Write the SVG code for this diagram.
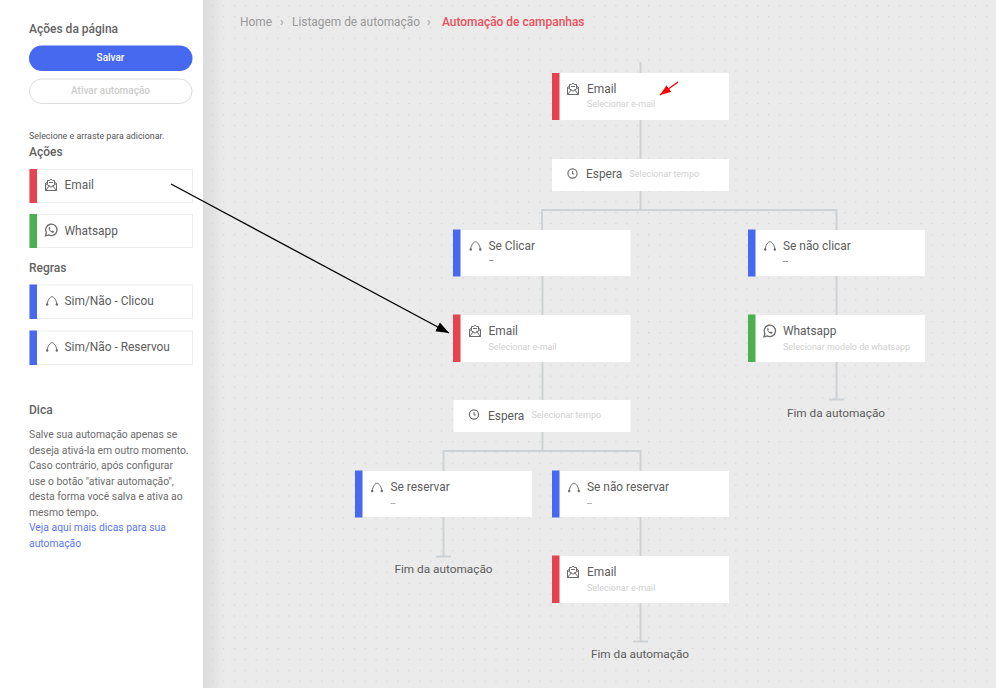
<svg xmlns="http://www.w3.org/2000/svg" width="996" height="688" viewBox="0 0 996 688">
<style>
text{font-family:Roboto,"Liberation Sans",sans-serif;fill:#5c5c5c}
.h{font-size:12px;font-weight:500;fill:#636363}
.t{font-size:11.9px;fill:#5c5c5c}
.s{font-size:8.950px;fill:#d0d0d0}
.d{font-size:10.350px;fill:#6c6c6c}
.l{font-size:10.350px;fill:#5b78f0}
.c{fill:#fff}
.p{fill:#fff;stroke:#eee;stroke-width:1}
.w{fill:none;stroke:#cdd2d6;stroke-width:2}
.i{fill:none;stroke:#6a6a6a;stroke-width:1}
.red{fill:#e4434f}.grn{fill:#4caf50}.blu{fill:#4669f0}
.e{font-size:11.800px;fill:#5c5c5c;text-anchor:middle}
</style>
<defs>
<pattern id="dots" width="10.9" height="10.9" patternUnits="userSpaceOnUse"><rect x="5" y="5" width="1.200" height="1.200" fill="#d2d2d2"/></pattern>
<linearGradient id="sh" x1="0" x2="1" y1="0" y2="0"><stop offset="0" stop-color="#dcdcdc"/><stop offset="1" stop-color="#ebebeb"/></linearGradient>
<g id="mail" class="i"><path d="M-5.500-1.500V5.500H5.500V-1.500L3.500-3V-4.500H1.500L0-5.800L-1.500-4.500H-3.500V-3Z"/><path d="M-5.500-1.500L0 2.200L5.500-1.500M-5.500 5.500L-1.500 .5M5.500 5.500L1.500 .5M-3.500-3V-.5M3.500-3V-.5M-2-2.500H2"/></g>
<g id="wa" class="i"><path d="M-5.500 5.800L-4.600 2.700A5.700 5.700 0 1 1-2.300 4.900Z" stroke-width="1.300"/><path d="M-2.300-2.500C-2.500 1 .5 3 2.600 2.700L3 1.200L1.300 .4L.5 1.200C-.4.800-1 .1-1.300-.8L-.6-1.500L-1.300-3Z" fill="#6a6a6a" stroke="none"/></g>
<g id="rule"><path class="i" d="M-4.800 3.800C-4.500 0-2-3.800 0-3.800S4.500 0 4.800 3.800" stroke-width="1.200"/><circle cx="-4.800" cy="4" r="1.200" fill="#6a6a6a"/><circle cx="4.800" cy="4" r="1.200" fill="#6a6a6a"/></g>
<g id="clock" class="i"><circle r="4.600" stroke-width="1.100"/><path d="M0-2.500V.5H1.800"/></g>
<marker id="ab" markerUnits="userSpaceOnUse" markerWidth="14" markerHeight="12" refX="13" refY="5" orient="auto"><path d="M0 0L13 5L0 10Z" fill="#000"/></marker>
<marker id="ar" markerUnits="userSpaceOnUse" markerWidth="12" markerHeight="10" refX="11" refY="4" orient="auto"><path d="M0 0L11 4L0 8Z" fill="#f00"/></marker>
</defs>

<rect width="996" height="688" fill="#ebebeb"/>
<rect x="203" width="22" height="688" fill="url(#sh)"/>
<rect x="203" width="793" height="688" fill="url(#dots)"/>
<rect width="203" height="688" fill="#fff"/>

<g id="breadcrumb">
<text x="240" y="26" font-size="11.9" style="fill:#999">Home</text>
<text x="280" y="26" font-size="12" style="fill:#999">›</text>
<text x="292" y="26" font-size="11.9" style="fill:#999">Listagem de automação</text>
<text x="427" y="26" font-size="12" style="fill:#999">›</text>
<text x="442" y="26" font-size="11.950" font-weight="500" style="fill:#e8505b">Automação de campanhas</text>
</g>

<g id="connectors">
<path class="w" d="M640.500 62V210M542 240V210H836.500V240M542.500 270V450M443.500 480V451H640.500V480M836.500 270V399M640.500 510V641M443.500 510V556"/>
<path class="w" d="M829 399.500H844M436 556.500H451M633 641.500H648" stroke-width="1"/>
</g>

<g id="sidebar-head">
<text class="h" x="29" y="33">Ações da página</text>
<rect x="29" y="45.500" width="163.500" height="25.500" rx="12.700" fill="#4669f0"/>
<text x="110.500" y="61" font-size="10" font-weight="500" text-anchor="middle" style="fill:#fff">Salvar</text>
<rect x="29.500" y="79" width="162.500" height="24.500" rx="12.200" fill="#fff" stroke="#ddd"/>
<text x="110.500" y="93.500" font-size="10" font-weight="500" text-anchor="middle" style="fill:#ccc">Ativar automação</text>
<text x="29" y="139" font-size="8.900" style="fill:#555">Selecione e arraste para adicionar.</text>
<text class="h" x="29" y="155.500">Ações</text>
<text class="h" x="29" y="272">Regras</text>
</g>

<g id="pal-email"><rect class="p" x="29.500" y="169.500" width="163" height="33"/><rect class="red" x="29.500" y="169" width="7.500" height="34"/><use href="#mail" x="51" y="185"/><text class="t" x="64.500" y="189">Email</text></g>
<g id="pal-whatsapp"><rect class="p" x="29.500" y="214.500" width="163" height="33"/><rect class="grn" x="29.500" y="214" width="7.500" height="34"/><use href="#wa" x="51" y="230"/><text class="t" x="64.500" y="234.500">Whatsapp</text></g>
<g id="pal-clicou"><rect class="p" x="29.500" y="285" width="163" height="33.500"/><rect class="blu" x="29.500" y="284.500" width="7.500" height="34.500"/><use href="#rule" x="52" y="300.500"/><text class="t" x="64.500" y="305">Sim/Não - Clicou</text></g>
<g id="pal-reservou"><rect class="p" x="29.500" y="331" width="163" height="33.500"/><rect class="blu" x="29.500" y="330.500" width="7.500" height="34.500"/><use href="#rule" x="52" y="346.500"/><text class="t" x="64.500" y="351">Sim/Não - Reservou</text></g>

<g id="tip">
<text class="h" x="29" y="414">Dica</text>
<text class="d" x="29" y="438">Salve sua automação apenas se</text>
<text class="d" x="29" y="453.500">deseja ativá-la em outro momento.</text>
<text class="d" x="29" y="469">Caso contrário, após configurar</text>
<text class="d" x="29" y="484.500">use o botão "ativar automação",</text>
<text class="d" x="29" y="500">desta forma você salva e ativa ao</text>
<text class="d" x="29" y="516">mesmo tempo.</text>
<text class="l" x="29" y="531">Veja aqui mais dicas para sua</text>
<text class="l" x="29" y="547">automação</text>
</g>

<g id="n-email-1"><rect class="c" x="552" y="73" width="177" height="47"/><rect class="red" x="552" y="73" width="7.500" height="47"/><use href="#mail" x="573" y="89"/><text class="t" x="587" y="93">Email</text><text class="s" x="587" y="107">Selecionar e-mail</text></g>
<g id="n-espera-1"><rect class="c" x="552" y="159" width="177" height="32"/><use href="#clock" x="572.500" y="173.500"/><text class="t" x="586" y="178">Espera</text><text class="s" x="629.500" y="177">Selecionar tempo</text></g>
<g id="n-se-clicar"><rect class="c" x="453" y="230" width="177.500" height="46"/><rect class="blu" x="453" y="229.500" width="7.500" height="47"/><use href="#rule" x="475.500" y="245.500"/><text class="t" x="488.500" y="249.500">Se Clicar</text><text class="s" x="488.500" y="264" style="fill:#666">–</text></g>
<g id="n-se-nao-clicar"><rect class="c" x="748" y="230" width="177" height="46"/><rect class="blu" x="748" y="229.500" width="7.500" height="47"/><use href="#rule" x="770" y="245.500"/><text class="t" x="783" y="249.500">Se não clicar</text><text class="s" x="783" y="264" style="fill:#666">--</text></g>
<g id="n-email-2"><rect class="c" x="453" y="315" width="177.500" height="47"/><rect class="red" x="453" y="314.500" width="7.500" height="47.500"/><use href="#mail" x="475" y="331"/><text class="t" x="488.500" y="335">Email</text><text class="s" x="488.500" y="350">Selecionar e-mail</text></g>
<g id="n-whatsapp"><rect class="c" x="748" y="315" width="177" height="47"/><rect class="grn" x="748" y="314.500" width="7.500" height="47.500"/><use href="#wa" x="769.500" y="331"/><text class="t" x="783" y="335">Whatsapp</text><text class="s" x="783" y="350">Selecionar modelo de whatsapp</text></g>
<g id="n-espera-2"><rect class="c" x="453.500" y="400" width="177" height="32"/><use href="#clock" x="474" y="414.500"/><text class="t" x="488" y="420">Espera</text><text class="s" x="531.500" y="418">Selecionar tempo</text></g>
<g id="n-se-reservar"><rect class="c" x="355" y="471" width="177" height="46"/><rect class="blu" x="355" y="470.500" width="7.500" height="47"/><use href="#rule" x="377" y="487"/><text class="t" x="390.500" y="491">Se reservar</text><text class="s" x="390.500" y="506" style="fill:#888">--</text></g>
<g id="n-se-nao-reservar"><rect class="c" x="552" y="471" width="177" height="46"/><rect class="blu" x="552" y="470.500" width="7.500" height="47"/><use href="#rule" x="574" y="487"/><text class="t" x="587" y="491">Se não reservar</text><text class="s" x="587" y="506" style="fill:#888">--</text></g>
<g id="n-email-3"><rect class="c" x="552" y="556" width="177" height="47"/><rect class="red" x="552" y="555.500" width="7.500" height="47.500"/><use href="#mail" x="573" y="572"/><text class="t" x="587" y="576">Email</text><text class="s" x="587" y="591">Selecionar e-mail</text></g>

<g id="ends">
<text class="e" x="836" y="416.500">Fim da automação</text>
<text class="e" x="443.500" y="572.500">Fim da automação</text>
<text class="e" x="640" y="658">Fim da automação</text>
</g>

<g id="annotations">
<line x1="171" y1="184" x2="449" y2="333" stroke="#000" stroke-width="1.300" marker-end="url(#ab)"/>
<line x1="678" y1="82" x2="660" y2="95" stroke="#f00" stroke-width="1.300" marker-end="url(#ar)"/>
</g>
</svg>
